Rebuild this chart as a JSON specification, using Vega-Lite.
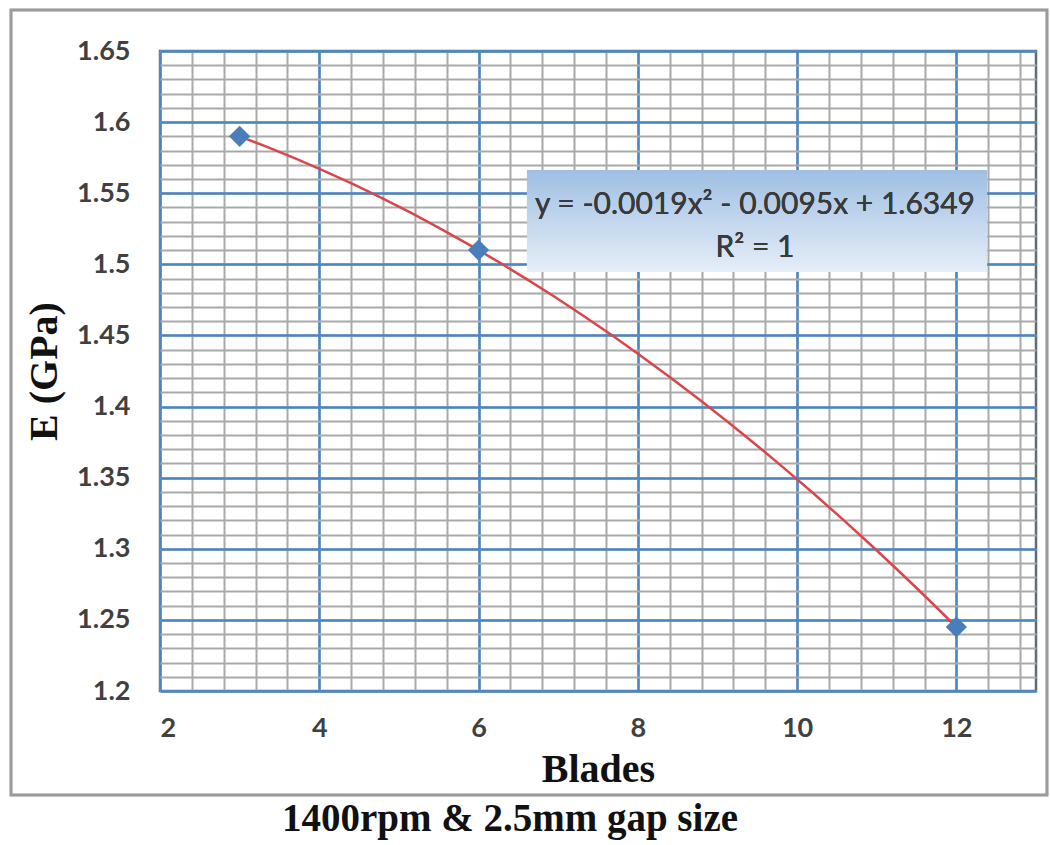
{
  "$schema": "https://vega.github.io/schema/vega-lite/v6.json",
  "width": 876,
  "height": 640,
  "autosize": {"type": "none"},
  "padding": {"left": 160, "top": 51, "right": 14, "bottom": 154},
  "background": "white",
  "config": {"view": {"stroke": "#5f6b7a", "strokeWidth": 2.5}},
  "data": {"values": [
    {"Blades": 3, "E": 1.59},
    {"Blades": 6, "E": 1.51},
    {"Blades": 12, "E": 1.245}
  ]},
  "title": {
    "text": "1400rpm & 2.5mm gap size",
    "orient": "bottom",
    "anchor": "middle",
    "dx": -88,
    "offset": 4,
    "font": "Liberation Serif",
    "fontSize": 39,
    "fontWeight": "bold",
    "color": "#111111"
  },
  "resolve": {"axis": {"x": "independent", "y": "independent"}},
  "layer": [
    {
      "mark": {"type": "point", "opacity": 0},
      "encoding": {
        "x": {"field": "Blades", "type": "quantitative",
          "scale": {"domain": [2, 13], "nice": false, "zero": false},
          "axis": {"orient": "bottom", "values": [2,2.4,2.8,3.2,3.6,4,4.4,4.8,5.2,5.6,6,6.4,6.8,7.2,7.6,8,8.4,8.8,9.2,9.6,10,10.4,10.8,11.2,11.6,12,12.4,12.8],
            "grid": true, "gridColor": "#a9a9a9", "gridWidth": 2, "labels": false, "ticks": false, "domain": false, "title": null}},
        "y": {"field": "E", "type": "quantitative",
          "scale": {"domain": [1.2, 1.65], "nice": false, "zero": false},
          "axis": {"orient": "left", "values": [1.2,1.21,1.22,1.23,1.24,1.25,1.26,1.27,1.28,1.29,1.3,1.31,1.32,1.33,1.34,1.35,1.36,1.37,1.38,1.39,1.4,1.41,1.42,1.43,1.44,1.45,1.46,1.47,1.48,1.49,1.5,1.51,1.52,1.53,1.54,1.55,1.56,1.57,1.58,1.59,1.6,1.61,1.62,1.63,1.64,1.65],
            "grid": true, "gridColor": "#a9a9a9", "gridWidth": 2, "labels": false, "ticks": false, "domain": false, "title": null}}
      }
    },
    {
      "mark": {"type": "rect", "fill": null, "stroke": "#9b9b9b", "strokeWidth": 2.5, "clip": false},
      "encoding": {
        "x": {"datum": 0.129, "type": "quantitative", "scale": {"domain": [2, 13], "nice": false, "zero": false}, "axis": null},
        "x2": {"datum": 13.138},
        "y": {"datum": 1.6788, "type": "quantitative", "scale": {"domain": [1.2, 1.65], "nice": false, "zero": false}, "axis": null},
        "y2": {"datum": 1.1269}
      }
    },
    {
      "mark": {"type": "rect", "clip": false,
        "fill": {"gradient": "linear", "x1": 0, "y1": 0, "x2": 0, "y2": 1,
          "stops": [{"offset": 0, "color": "#9fbfe3"}, {"offset": 1, "color": "#e6eef8"}]}},
      "encoding": {
        "x": {"datum": 6.608, "type": "quantitative", "scale": {"domain": [2, 13], "nice": false, "zero": false}, "axis": null},
        "x2": {"datum": 12.385},
        "y": {"datum": 1.5663, "type": "quantitative", "scale": {"domain": [1.2, 1.65], "nice": false, "zero": false}, "axis": null},
        "y2": {"datum": 1.4946}
      }
    },
    {
      "mark": {"type": "text", "text": ["y = -0.0019x² - 0.0095x + 1.6349", "R² = 1"],
        "font": "Lato", "fontSize": 30, "color": "#3a3a3a", "align": "center", "baseline": "middle", "lineHeight": 43},
      "encoding": {
        "x": {"datum": 9.471, "type": "quantitative", "scale": {"domain": [2, 13], "nice": false, "zero": false}, "axis": null},
        "y": {"datum": 1.5417, "type": "quantitative", "scale": {"domain": [1.2, 1.65], "nice": false, "zero": false}, "axis": null}
      }
    },
    {
      "transform": [{"regression": "E", "on": "Blades", "method": "poly", "order": 2, "extent": [3, 12]}],
      "mark": {"type": "line", "color": "#d9464a", "strokeWidth": 2.5},
      "encoding": {
        "x": {"field": "Blades", "type": "quantitative",
          "scale": {"domain": [2, 13], "nice": false, "zero": false},
          "axis": {"orient": "bottom", "values": [2, 4, 6, 8, 10, 12], "format": "~g",
            "grid": true, "gridColor": "#4a86c4", "gridWidth": 2.5, "ticks": false, "domain": false,
            "labelFont": "Lato", "labelFontWeight": "bold", "labelFontSize": 27, "labelColor": "#404040", "labelPadding": 24,
            "title": "Blades", "titleFont": "Liberation Serif", "titleFontSize": 40, "titleFontWeight": "bold", "titleColor": "#111111", "titlePadding": 8}},
        "y": {"field": "E", "type": "quantitative",
          "scale": {"domain": [1.2, 1.65], "nice": false, "zero": false},
          "axis": {"orient": "left", "values": [1.2,1.25,1.3,1.35,1.4,1.45,1.5,1.55,1.6,1.65], "format": "~g",
            "grid": true, "gridColor": "#4a86c4", "gridWidth": 2.5, "ticks": false, "domain": false,
            "labelFont": "Lato", "labelFontWeight": "bold", "labelFontSize": 27, "labelColor": "#404040", "labelPadding": 30,
            "title": "E (GPa)", "titleFont": "Liberation Serif", "titleFontSize": 40, "titleFontWeight": "bold", "titleColor": "#111111", "titlePadding": 12}}
      }
    },
    {
      "mark": {"type": "point", "shape": "diamond", "filled": true, "size": 450, "color": "#4a7ebb", "opacity": 1},
      "encoding": {
        "x": {"field": "Blades", "type": "quantitative", "scale": {"domain": [2, 13], "nice": false, "zero": false}, "axis": null},
        "y": {"field": "E", "type": "quantitative", "scale": {"domain": [1.2, 1.65], "nice": false, "zero": false}, "axis": null}
      }
    }
  ]
}
